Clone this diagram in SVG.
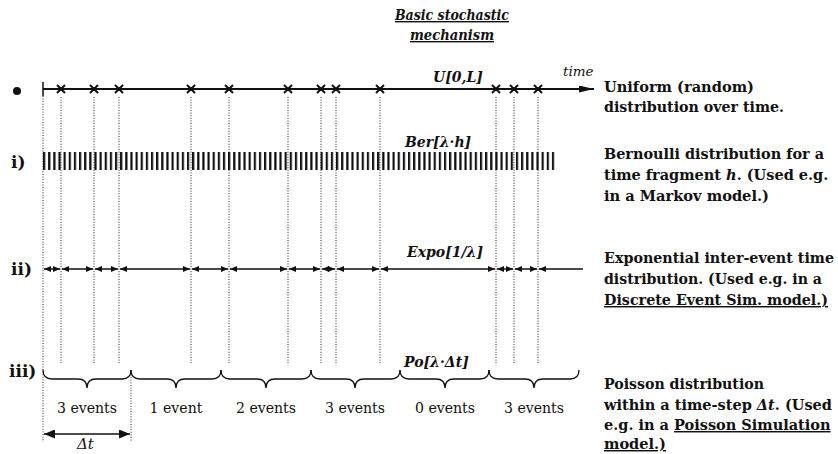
<svg xmlns="http://www.w3.org/2000/svg" width="838" height="454" viewBox="0 0 838 454">
<defs>
<style>
text{fill:#111;font-family:'DejaVu Serif',serif}
.desc{font-size:14.5px;font-weight:bold}
.row{font-size:17px;font-weight:bold}
.dist{font-size:14px;font-weight:bold;font-style:italic}
.ev{font-size:14.5px;text-anchor:middle}
.it{font-style:italic}
.u{text-decoration:underline}
.dot{stroke:#222;stroke-width:1;stroke-dasharray:1 1.6;fill:none}
.cross{stroke:#111;stroke-width:2;fill:none}
.brace{stroke:#111;stroke-width:1.3;fill:none}
.ln{stroke:#111;stroke-width:1.5;fill:none}
</style>
<marker id="ah" markerUnits="userSpaceOnUse" markerWidth="7" markerHeight="6" refX="7" refY="3" orient="auto-start-reverse">
<path d="M0,0 L7,3 L0,6 z" fill="#111"/>
</marker>
<marker id="ahBig" markerUnits="userSpaceOnUse" markerWidth="11" markerHeight="9" refX="11" refY="4.5" orient="auto-start-reverse">
<path d="M0,0 L11,4.5 L0,9 z" fill="#111"/>
</marker>
<marker id="ahAxis" markerUnits="userSpaceOnUse" markerWidth="15" markerHeight="7" refX="15" refY="3.5" orient="auto">
<path d="M0,0 L15,3.5 L0,7 z" fill="#111"/>
</marker>
<pattern id="bars" patternUnits="userSpaceOnUse" x="43" y="0" width="5.14" height="40">
<rect x="0" y="0" width="2.2" height="40" fill="#111"/>
</pattern>
</defs>

<g id="title">
<text class="dist u" x="452" y="20" style="font-size:14px" text-anchor="middle" textLength="114" lengthAdjust="spacingAndGlyphs">Basic stochastic</text>
<text class="dist u" x="452" y="40" style="font-size:14px" text-anchor="middle" textLength="84" lengthAdjust="spacingAndGlyphs">mechanism</text>
</g>

<g id="connectors">
<line class="dot" x1="43" y1="96" x2="43" y2="442"/>
<line class="dot" x1="131" y1="372" x2="131" y2="442"/>
<line class="dot" x1="61" y1="97" x2="61" y2="363"/>
<line class="dot" x1="94" y1="97" x2="94" y2="363"/>
<line class="dot" x1="119" y1="97" x2="119" y2="363"/>
<line class="dot" x1="191" y1="97" x2="191" y2="363"/>
<line class="dot" x1="229" y1="97" x2="229" y2="363"/>
<line class="dot" x1="288" y1="97" x2="288" y2="363"/>
<line class="dot" x1="321" y1="97" x2="321" y2="363"/>
<line class="dot" x1="336" y1="97" x2="336" y2="363"/>
<line class="dot" x1="380" y1="97" x2="380" y2="363"/>
<line class="dot" x1="496" y1="97" x2="496" y2="363"/>
<line class="dot" x1="514" y1="97" x2="514" y2="363"/>
<line class="dot" x1="538" y1="97" x2="538" y2="363"/>
<line class="ln" x1="44" y1="434" x2="130" y2="434" marker-start="url(#ahBig)" marker-end="url(#ahBig)"/>
</g>

<g id="uniform">
<circle cx="17" cy="91" r="4" fill="#111"/>
<line x1="43" y1="82" x2="43" y2="96" stroke="#111" stroke-width="1.5"/>
<line x1="43" y1="89" x2="594" y2="89" stroke="#111" stroke-width="2.2" marker-end="url(#ahAxis)"/>
<path class="cross" d="M57,85 l8,8 m0,-8 l-8,8 M90,85 l8,8 m0,-8 l-8,8 M115,85 l8,8 m0,-8 l-8,8 M187,85 l8,8 m0,-8 l-8,8 M225,85 l8,8 m0,-8 l-8,8 M284,85 l8,8 m0,-8 l-8,8 M317,85 l8,8 m0,-8 l-8,8 M332,85 l8,8 m0,-8 l-8,8 M376,85 l8,8 m0,-8 l-8,8 M492,85 l8,8 m0,-8 l-8,8 M510,85 l8,8 m0,-8 l-8,8 M534,85 l8,8 m0,-8 l-8,8"/>
<text class="dist" x="433" y="82">U[0,L]</text>
<text class="it" x="563" y="76" style="font-size:13.5px">time</text>
<text class="desc" x="604" y="92" textLength="150" lengthAdjust="spacingAndGlyphs">Uniform (random)</text>
<text class="desc" x="604" y="112" textLength="180" lengthAdjust="spacingAndGlyphs">distribution over time.</text>
</g>

<g id="bernoulli">
<text class="row" x="11" y="168">i)</text>
<rect x="43" y="152" width="514" height="18" fill="url(#bars)"/>
<text class="dist" x="405" y="147">Ber[λ·h]</text>
<text class="desc" x="604" y="159" textLength="220" lengthAdjust="spacingAndGlyphs">Bernoulli distribution for a</text>
<text class="desc" x="604" y="180">time fragment <tspan class="it">h</tspan>. (Used e.g.</text>
<text class="desc" x="604" y="201" textLength="165" lengthAdjust="spacingAndGlyphs">in a Markov model.)</text>
</g>

<g id="exponential">
<text class="row" x="11" y="275">ii)</text>
<g>
<line class="ln" x1="44" y1="269" x2="60" y2="269" marker-start="url(#ah)" marker-end="url(#ah)"/>
<line class="ln" x1="62" y1="269" x2="93" y2="269" marker-start="url(#ah)" marker-end="url(#ah)"/>
<line class="ln" x1="95" y1="269" x2="118" y2="269" marker-start="url(#ah)" marker-end="url(#ah)"/>
<line class="ln" x1="120" y1="269" x2="190" y2="269" marker-start="url(#ah)" marker-end="url(#ah)"/>
<line class="ln" x1="192" y1="269" x2="228" y2="269" marker-start="url(#ah)" marker-end="url(#ah)"/>
<line class="ln" x1="230" y1="269" x2="287" y2="269" marker-start="url(#ah)" marker-end="url(#ah)"/>
<line class="ln" x1="289" y1="269" x2="320" y2="269" marker-start="url(#ah)" marker-end="url(#ah)"/>
<line class="ln" x1="322" y1="269" x2="335" y2="269" marker-start="url(#ah)" marker-end="url(#ah)"/>
<line class="ln" x1="337" y1="269" x2="379" y2="269" marker-start="url(#ah)" marker-end="url(#ah)"/>
<line class="ln" x1="381" y1="269" x2="495" y2="269" marker-start="url(#ah)" marker-end="url(#ah)"/>
<line class="ln" x1="497" y1="269" x2="513" y2="269" marker-start="url(#ah)" marker-end="url(#ah)"/>
<line class="ln" x1="515" y1="269" x2="537" y2="269" marker-start="url(#ah)" marker-end="url(#ah)"/>
<line class="ln" x1="539" y1="269" x2="583" y2="269" marker-start="url(#ah)"/>
</g>
<text class="dist" x="407" y="257">Expo[1/λ]</text>
<text class="desc" x="604" y="263" textLength="230" lengthAdjust="spacingAndGlyphs">Exponential inter-event time</text>
<text class="desc" x="604" y="284" textLength="218" lengthAdjust="spacingAndGlyphs">distribution. (Used e.g. in a</text>
<text class="desc u" x="604" y="305" textLength="224" lengthAdjust="spacingAndGlyphs">Discrete Event Sim. model.)</text>
</g>

<g id="poisson">
<text class="row" x="9" y="377">iii)</text>
<path class="brace" d="M43,370 Q43,379 52,379 L78,379 Q87,379 87,388 Q87,379 96,379 L122,379 Q131,379 131,370"/>
<path class="brace" d="M131,370 Q131,379 140,379 L167,379 Q176,379 176,388 Q176,379 185,379 L212,379 Q221,379 221,370"/>
<path class="brace" d="M221,370 Q221,379 230,379 L257,379 Q266,379 266,388 Q266,379 275,379 L302,379 Q311,379 311,370"/>
<path class="brace" d="M311,370 Q311,379 320,379 L346,379 Q355,379 355,388 Q355,379 364,379 L391,379 Q400,379 400,370"/>
<path class="brace" d="M400,370 Q400,379 409,379 L436,379 Q445,379 445,388 Q445,379 454,379 L480,379 Q489,379 489,370"/>
<path class="brace" d="M489,370 Q489,379 498,379 L525,379 Q534,379 534,388 Q534,379 543,379 L570,379 Q579,379 579,370"/>
<text class="ev" x="87" y="413" textLength="60" lengthAdjust="spacingAndGlyphs">3 events</text>
<text class="ev" x="176" y="413" textLength="53" lengthAdjust="spacingAndGlyphs">1 event</text>
<text class="ev" x="266" y="413" textLength="60" lengthAdjust="spacingAndGlyphs">2 events</text>
<text class="ev" x="355" y="413" textLength="60" lengthAdjust="spacingAndGlyphs">3 events</text>
<text class="ev" x="445" y="413" textLength="60" lengthAdjust="spacingAndGlyphs">0 events</text>
<text class="ev" x="534" y="413" textLength="60" lengthAdjust="spacingAndGlyphs">3 events</text>
<text class="it" x="77" y="449" style="font-size:15px">Δt</text>
<text class="dist" x="404" y="367">Po[λ·Δt]</text>
<text class="desc" x="604" y="389" textLength="160" lengthAdjust="spacingAndGlyphs">Poisson distribution</text>
<text class="desc" x="604" y="410">within a time-step <tspan class="it">Δt</tspan>. (Used</text>
<text class="desc" x="604" y="430">e.g. in a <tspan class="u">Poisson Simulation</tspan></text>
<text class="desc u" x="604" y="449" textLength="62" lengthAdjust="spacingAndGlyphs">model.)</text>
</g>
</svg>
